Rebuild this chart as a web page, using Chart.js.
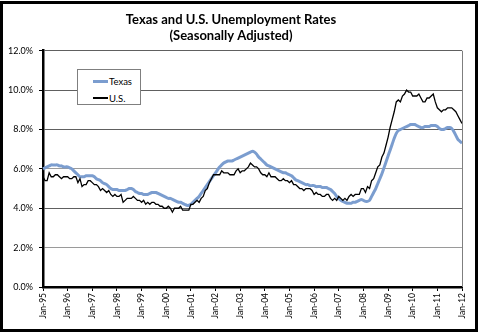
<!DOCTYPE html>
<html>
<head>
<meta charset="utf-8">
<script src="https://cdn.jsdelivr.net/npm/chart.js@4/dist/chart.umd.min.js"></script>
<style>
  html, body { margin: 0; padding: 0; background: #fff; }
  #frame { position: absolute; left: 0; top: 1px; width: 478px; height: 331px; box-sizing: border-box; border: 3px solid #000; }
  #wrap { position: absolute; left: 0; top: 0; width: 478px; height: 335px; }
  #legendBox {
    position: absolute; left: 77px; top: 69px; width: 64px; height: 36px; box-sizing: border-box;
    border: 1px solid #7f7f7f; background: #fff;
    font-family: Lato, "Liberation Sans", sans-serif; font-size: 9.5px; color: #000;
  }
  .lg { position: absolute; left: 15px; display: flex; align-items: center; height: 12px; }
  .lg span.sw { display: inline-block; width: 15px; margin-right: 1px; }
</style>
</head>
<body>
<div id="frame"></div>
<div id="wrap"><canvas id="unempChart" width="478" height="335"></canvas></div>
<div id="legendBox">
  <div class="lg" style="top:5px;"><span class="sw" style="height:3px;background:#7b9dcf;"></span>Texas</div>
  <div class="lg" style="top:22px;"><span class="sw" style="height:1.5px;background:#000;"></span>U.S.</div>
</div>
<script>
const years = ['95','96','97','98','99','00','01','02','03','04','05','06','07','08','09','10','11','12'];
const months = ['Jan','Feb','Mar','Apr','May','Jun','Jul','Aug','Sep','Oct','Nov','Dec'];

// Texas, monthly Jan-95 .. Jan-12 (%)
const texasRate = [
  6.0, 6.05, 6.1, 6.15, 6.2, 6.2, 6.2, 6.2, 6.15, 6.15, 6.1, 6.1,
  6.1, 6.05, 6.0, 5.9, 5.8, 5.7, 5.6, 5.6, 5.6, 5.65, 5.65, 5.65,
  5.65, 5.6, 5.5, 5.45, 5.4, 5.3, 5.25, 5.2, 5.1, 5.0, 4.95, 4.95,
  4.95, 4.9, 4.9, 4.9, 4.9, 4.95, 5.0, 5.0, 4.95, 4.85, 4.8, 4.75,
  4.75, 4.7, 4.7, 4.7, 4.75, 4.8, 4.8, 4.8, 4.75, 4.7, 4.65, 4.6,
  4.55, 4.5, 4.5, 4.45, 4.4, 4.35, 4.3, 4.3, 4.25, 4.2, 4.15, 4.15,
  4.2, 4.3, 4.4, 4.5, 4.6, 4.75, 4.9, 5.05, 5.2, 5.35, 5.5, 5.65,
  5.8, 5.95, 6.1, 6.2, 6.3, 6.35, 6.4, 6.4, 6.4, 6.45, 6.5, 6.55,
  6.6, 6.65, 6.7, 6.75, 6.8, 6.85, 6.9, 6.85, 6.75, 6.6, 6.5, 6.4,
  6.3, 6.2, 6.15, 6.1, 6.05, 6.0, 5.95, 5.9, 5.85, 5.8, 5.8, 5.75,
  5.7, 5.65, 5.55, 5.45, 5.4, 5.35, 5.3, 5.25, 5.2, 5.2, 5.15, 5.15,
  5.15, 5.1, 5.1, 5.1, 5.05, 5.05, 5.05, 5.0, 4.95, 4.85, 4.75, 4.6,
  4.5, 4.4, 4.35, 4.3, 4.25, 4.25, 4.25, 4.3, 4.3, 4.35, 4.4, 4.45,
  4.4, 4.35, 4.35, 4.4, 4.6, 4.8, 5.0, 5.25, 5.5, 5.75, 6.05, 6.35,
  6.65, 6.95, 7.25, 7.55, 7.8, 7.95, 8.0, 8.05, 8.1, 8.15, 8.2, 8.25,
  8.25, 8.25, 8.2, 8.15, 8.1, 8.1, 8.15, 8.15, 8.15, 8.2, 8.2, 8.2,
  8.15, 8.05, 8.0, 8.0, 8.05, 8.1, 8.1, 8.05, 7.9, 7.7, 7.5, 7.4,
  7.3
];

// U.S., monthly Jan-95 .. Jan-12 (%)
const usRate = [
  5.6, 5.4, 5.4, 5.8, 5.6, 5.6, 5.7, 5.7, 5.6, 5.5, 5.6, 5.6,
  5.6, 5.5, 5.5, 5.6, 5.6, 5.3, 5.5, 5.1, 5.2, 5.2, 5.4, 5.4,
  5.3, 5.2, 5.2, 5.1, 4.9, 5.0, 4.9, 4.8, 4.9, 4.7, 4.6, 4.7,
  4.6, 4.6, 4.7, 4.3, 4.4, 4.5, 4.5, 4.5, 4.6, 4.5, 4.4, 4.4,
  4.3, 4.4, 4.2, 4.3, 4.2, 4.3, 4.3, 4.2, 4.2, 4.1, 4.1, 4.0,
  4.0, 4.1, 4.0, 3.8, 4.0, 4.0, 4.0, 4.1, 3.9, 3.9, 3.9, 3.9,
  4.2, 4.2, 4.3, 4.4, 4.3, 4.5, 4.6, 4.9, 5.0, 5.3, 5.5, 5.7,
  5.7, 5.7, 5.7, 5.9, 5.8, 5.8, 5.8, 5.7, 5.7, 5.7, 5.9, 6.0,
  5.8, 5.9, 5.9, 6.0, 6.1, 6.3, 6.2, 6.1, 6.1, 6.0, 5.8, 5.7,
  5.7, 5.6, 5.8, 5.6, 5.6, 5.6, 5.5, 5.4, 5.4, 5.5, 5.4, 5.4,
  5.3, 5.4, 5.2, 5.2, 5.1, 5.0, 5.0, 4.9, 5.0, 5.0, 5.0, 4.9,
  4.7, 4.8, 4.7, 4.7, 4.6, 4.6, 4.7, 4.7, 4.5, 4.4, 4.5, 4.4,
  4.6, 4.5, 4.4, 4.5, 4.4, 4.6, 4.7, 4.6, 4.7, 4.7, 4.7, 5.0,
  5.0, 4.8, 5.1, 5.0, 5.4, 5.5, 5.8, 6.1, 6.2, 6.6, 6.8, 7.2,
  7.6, 8.1, 8.5, 8.9, 9.4, 9.5, 9.4, 9.7, 9.8, 10.0, 9.9, 9.9,
  9.7, 9.7, 9.7, 9.8, 9.6, 9.4, 9.4, 9.6, 9.6, 9.7, 9.8, 9.4,
  9.1, 9.0, 8.9, 9.0, 9.0, 9.1, 9.1, 9.1, 9.0, 8.9, 8.7, 8.5,
  8.3
];

const yTicks = [0, 2, 4, 6, 8, 10, 12];

const labels = [];
years.forEach((y, i) => {
  months.forEach(m => {
    if (i < years.length - 1 || m === 'Jan') labels.push(m + '-' + y);
  });
});

const rightBorder = {
  id: 'right-border',
  afterDatasetsDraw(chart) {
    const { ctx, chartArea: { right, top, bottom } } = chart;
    ctx.save();
    ctx.strokeStyle = '#7f7f7f';
    ctx.lineWidth = 1;
    ctx.beginPath();
    ctx.moveTo(Math.round(right) + 0.5, top);
    ctx.lineTo(Math.round(right) + 0.5, bottom);
    ctx.stroke();
    ctx.restore();
  }
};

const font = 'Lato, "Liberation Sans", sans-serif';

new Chart(document.getElementById('unempChart'), {
  type: 'line',
  data: {
    labels,
    datasets: [
      { label: 'Texas', data: texasRate, borderColor: '#7b9dcf', borderWidth: 3, pointRadius: 0, tension: 0.3, order: 2 },
      { label: 'U.S.', data: usRate, borderColor: '#000', borderWidth: 1.3, pointRadius: 0, tension: 0, order: 1 }
    ]
  },
  options: {
    responsive: false,
    animation: false,
    layout: { padding: { left: 0, right: 16, top: 10, bottom: 3 } },
    plugins: {
      legend: { display: false },
      tooltip: { enabled: false },
      title: {
        display: true,
        text: ['Texas and U.S. Unemployment Rates', '(Seasonally Adjusted)'],
        color: '#000',
        font: { family: font, size: 13, weight: 'bold', lineHeight: 1.22 },
        padding: { top: 2, bottom: 7 }
      }
    },
    scales: {
      x: {
        ticks: {
          autoSkip: false, maxRotation: 90, minRotation: 90,
          color: '#000', font: { family: font, size: 8.5 }, padding: 2,
          callback(v, i) { return i % 12 === 0 ? labels[i] : null; }
        },
        grid: { drawOnChartArea: false, drawTicks: true, tickLength: 4, color: '#000' },
        border: { color: '#000', width: 2.5 },
        afterFit(s) { s.height = 45; }
      },
      y: {
        min: 0, max: 12,
        afterBuildTicks(s) { s.ticks = yTicks.map(v => ({ value: v })); },
        ticks: {
          color: '#000', font: { family: font, size: 9 }, padding: 6,
          callback: v => v.toFixed(1) + '%'
        },
        grid: {
          color: c => (c.tick && (c.tick.value === 6 || c.tick.value === 2)) ? '#9a9a9a' : '#606060',
          tickLength: 4, tickColor: '#000'
        },
        border: { color: '#000', width: 2.5 },
        afterFit(s) { s.width = 43; }
      }
    }
  },
  plugins: [rightBorder]
});
</script>
</body>
</html>
